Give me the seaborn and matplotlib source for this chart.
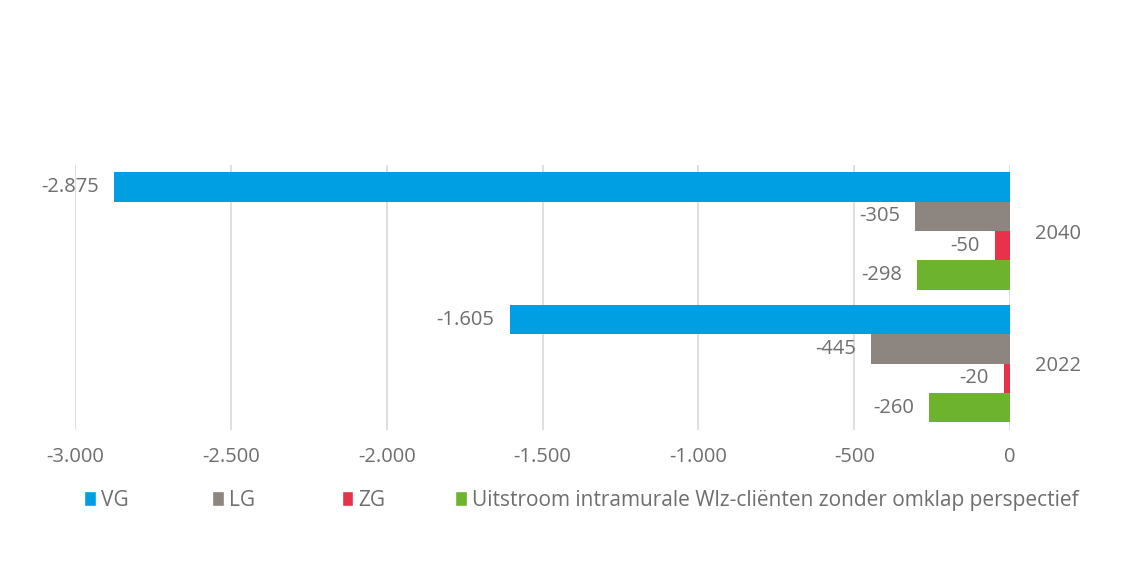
import pandas as pd
import matplotlib.pyplot as plt
import seaborn as sns
from matplotlib.patches import Patch

# data
years = ['2040', '2022']
series = ['VG', 'LG', 'ZG', 'Uitstroom intramurale Wlz-cliënten zonder omklap perspectief']
vg = [-2875, -1605]
lg = [-305, -445]
zg = [-50, -20]
uitstroom = [-298, -260]
xticks = [-3000, -2500, -2000, -1500, -1000, -500, 0]

colors = ['#009FE3', '#8C8580', '#E6334A', '#6DB32E']
text_color = '#6E6E6E'


def nl(v):
    # Dutch thousands separator
    return f'{v:,.0f}'.replace(',', '.')


rows = []
for name, vals in zip(series, [vg, lg, zg, uitstroom]):
    for y, v in zip(years, vals):
        rows.append({'jaar': y, 'serie': name, 'waarde': v})
df = pd.DataFrame(rows)

sns.set_style('white')
plt.rcParams['font.family'] = ['Open Sans', 'DejaVu Sans']

fig = plt.figure(figsize=(11.24, 5.82), dpi=100)
ax = fig.add_axes([0.0667, 0.261, 0.832, 0.456])

sns.barplot(data=df, y='jaar', x='waarde', hue='serie', order=years, hue_order=series,
            palette=colors, orient='h', width=0.885, saturation=1, legend=False,
            linewidth=0, ax=ax)

for cont in ax.containers:
    ax.bar_label(cont, labels=[nl(b.get_width()) for b in cont], padding=11,
                 fontsize=14.5, color=text_color)

ax.set_xlim(-3000, 0)
ax.set_xticks(xticks)
ax.set_xticklabels([nl(t) for t in xticks], fontsize=14.5, color=text_color)
ax.xaxis.grid(True, color='#D9D9D9', linewidth=1.2)
ax.set_axisbelow(True)
ax.yaxis.tick_right()
ax.tick_params(axis='y', length=0, pad=18, labelsize=14.5, labelcolor=text_color)
ax.tick_params(axis='x', length=0, pad=12)
ax.set_xlabel('')
ax.set_ylabel('')
sns.despine(ax=ax, left=True, bottom=True)

# legend entries placed one by one, like the original
legend_x = [0.075, 0.189, 0.304, 0.405]
for c, s, lx in zip(colors, series, legend_x):
    fig.legend(handles=[Patch(facecolor=c, label=s)], loc='center left',
               bbox_to_anchor=(lx, 0.14), frameon=False, fontsize=15,
               labelcolor=text_color, handlelength=0.55, handleheight=0.75,
               handletextpad=0.25, borderpad=0, borderaxespad=0)

fig.savefig('out.png', dpi=100, facecolor='white')
